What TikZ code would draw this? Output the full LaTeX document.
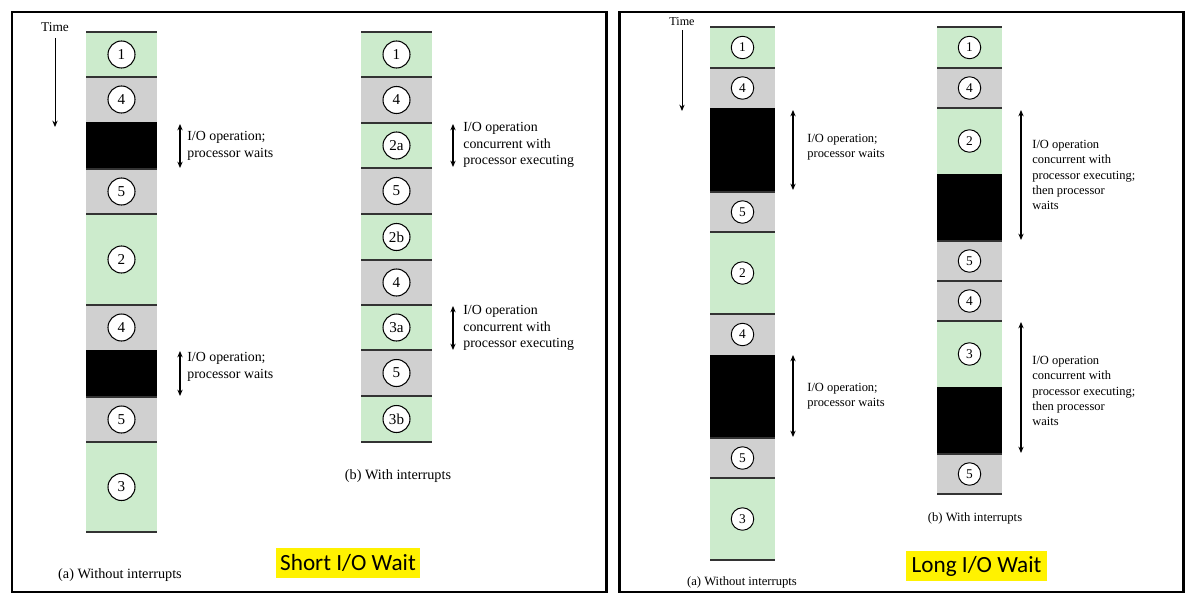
\documentclass[tikz,border=0pt]{standalone}
\usepackage{fontspec}
\setmainfont{Liberation Serif}
\newfontfamily\carlito{Carlito}
\usetikzlibrary{arrows.meta,fit}
\definecolor{pgreen}{HTML}{CCEBCC}
\definecolor{pgray}{HTML}{D0D0D0}
\newcommand\segm[8]{%
  \node[segbox, fill=#6, fit={(#2,#4) (#3,#5)}] (#1) {};
  \draw[sepline] (#1.north west) -- (#1.north east);
  \node[#7] (#1c) at (#1.center) {#8};}
\newcommand\blkseg[5]{%
  \node[segbox, fill=black, fit={(#2,#4) (#3,#5)}] (#1) {};}
\begin{document}
\begin{tikzpicture}[x=0.02cm,y=-0.02cm,
  segbox/.style={inner sep=0pt, outer sep=0pt, draw=none},
  sepline/.style={line width=0.6pt, draw=black!80},
  numL/.style={circle, draw=black, fill=white, line width=0.6pt, inner sep=0pt, minimum size=0.54cm, font=\fontsize{8.6}{9}\selectfont},
  numR/.style={circle, draw=black, fill=white, line width=0.55pt, inner sep=0pt, minimum size=0.45cm, font=\fontsize{7.6}{8}\selectfont},
  ioarrow/.style={line width=0.6pt, {Stealth[length=3.6pt,width=3pt]}-{Stealth[length=3.6pt,width=3pt]}},
  tarrow/.style={line width=0.5pt, -{Stealth[length=3.6pt,width=3pt]}},
  iotextL/.style={anchor=west, align=left, inner sep=0pt, font=\fontsize{7.9}{9.8}\selectfont},
  iotextR/.style={anchor=west, align=left, inner sep=0pt, font=\fontsize{7.1}{8.75}\selectfont},
  capL/.style={inner sep=0pt, font=\fontsize{8.1}{9}\selectfont},
  capR/.style={inner sep=0pt, font=\fontsize{7.2}{8}\selectfont},
  frame/.style={line width=1.7pt, draw=black},
  hilite/.style={fill=yellow, inner sep=0pt, font=\carlito\fontsize{13.2}{15}\selectfont}]
\useasboundingbox (0,0) rectangle (1200,608);
% frames
\draw[frame] (12,12) rectangle (606,592);
\draw[frame] (619,12) rectangle (1183,592);

% ---------- Left (a) ----------
\segm{la1}{86}{157}{32}{77}{pgreen}{numL}{1}
\segm{la2}{86}{157}{77}{122}{pgray}{numL}{4}
\blkseg{la3}{86}{157}{122}{169}
\segm{la4}{86}{157}{169}{214}{pgray}{numL}{5}
\segm{la5}{86}{157}{214}{305}{pgreen}{numL}{2}
\segm{la6}{86}{157}{305}{350}{pgray}{numL}{4}
\blkseg{la7}{86}{157}{350}{397}
\segm{la8}{86}{157}{397}{442}{pgray}{numL}{5}
\segm{la9}{86}{157}{442}{532}{pgreen}{numL}{3}
\draw[sepline] (la9.south west) -- (la9.south east);
\node[capL, font=\fontsize{7.6}{8}\selectfont] (timeL) at (55,27) {Time};
\coordinate (timeLs) at (55,38);
\coordinate (timeLe) at (55,127);
\draw[tarrow] (timeLs) -- (timeLe);
\coordinate (laA1t) at (180,124); \coordinate (laA1b) at (180,168);
\draw[ioarrow] (laA1t) -- (laA1b);
\node[iotextL] (laT1) at (187,146) {I/O operation;\\processor waits};
\coordinate (laA2t) at (180,351); \coordinate (laA2b) at (180,396);
\draw[ioarrow] (laA2t) -- (laA2b);
\node[iotextL] (laT2) at (187,367) {I/O operation;\\processor waits};
\node[capL] (capLa) at (120,575) {(a) Without interrupts};

% ---------- Left (b) ----------
\segm{lb1}{361}{432}{32}{77}{pgreen}{numL}{1}
\segm{lb2}{361}{432}{77}{123}{pgray}{numL}{4}
\segm{lb3}{361}{432}{123}{168}{pgreen}{numL}{2a}
\segm{lb4}{361}{432}{168}{214}{pgray}{numL}{5}
\segm{lb5}{361}{432}{214}{260}{pgreen}{numL}{2b}
\segm{lb6}{361}{432}{260}{305}{pgray}{numL}{4}
\segm{lb7}{361}{432}{305}{350}{pgreen}{numL}{3a}
\segm{lb8}{361}{432}{350}{396}{pgray}{numL}{5}
\segm{lb9}{361}{432}{396}{442}{pgreen}{numL}{3b}
\draw[sepline] (lb9.south west) -- (lb9.south east);
\coordinate (lbA1t) at (453,124); \coordinate (lbA1b) at (453,167);
\draw[ioarrow] (lbA1t) -- (lbA1b);
\node[iotextL, font=\fontsize{7.9}{9.6}\selectfont] (lbT1) at (463,145) {I/O operation\\concurrent with\\processor executing};
\coordinate (lbA2t) at (453,306); \coordinate (lbA2b) at (453,350);
\draw[ioarrow] (lbA2t) -- (lbA2b);
\node[iotextL, font=\fontsize{7.9}{9.6}\selectfont] (lbT2) at (463,328) {I/O operation\\concurrent with\\processor executing};
\node[capL] (capLb) at (398,476) {(b) With interrupts};
\node[hilite, minimum width=2.88cm, minimum height=0.6cm] (short) at (348,563) {Short I/O Wait};

% ---------- Right (a) ----------
\segm{ra1}{710}{775}{27}{68}{pgreen}{numR}{1}
\segm{ra2}{710}{775}{68}{108}{pgray}{numR}{4}
\blkseg{ra3}{710}{775}{108}{192}
\segm{ra4}{710}{775}{192}{232}{pgray}{numR}{5}
\segm{ra5}{710}{775}{232}{314}{pgreen}{numR}{2}
\segm{ra6}{710}{775}{314}{355}{pgray}{numR}{4}
\blkseg{ra7}{710}{775}{355}{438}
\segm{ra8}{710}{775}{438}{478}{pgray}{numR}{5}
\segm{ra9}{710}{775}{478}{560}{pgreen}{numR}{3}
\draw[sepline] (ra9.south west) -- (ra9.south east);
\node[capR, font=\fontsize{6.9}{7}\selectfont] (timeR) at (682,22) {Time};
\coordinate (timeRs) at (682,30);
\coordinate (timeRe) at (682,111);
\draw[tarrow] (timeRs) -- (timeRe);
\coordinate (raA1t) at (793,110); \coordinate (raA1b) at (793,190);
\draw[ioarrow] (raA1t) -- (raA1b);
\node[iotextR] (raT1) at (807,147) {I/O operation;\\processor waits};
\coordinate (raA2t) at (793,355); \coordinate (raA2b) at (793,437);
\draw[ioarrow] (raA2t) -- (raA2b);
\node[iotextR] (raT2) at (807,396) {I/O operation;\\processor waits};
\node[capR] (capRa) at (742,582) {(a) Without interrupts};

% ---------- Right (b) ----------
\segm{rb1}{937}{1002}{27}{68}{pgreen}{numR}{1}
\segm{rb2}{937}{1002}{68}{108}{pgray}{numR}{4}
\segm{rb3}{937}{1002}{108}{174}{pgreen}{numR}{2}
\blkseg{rb4}{937}{1002}{174}{241}
\segm{rb5}{937}{1002}{241}{281}{pgray}{numR}{5}
\segm{rb6}{937}{1002}{281}{321}{pgray}{numR}{4}
\segm{rb7}{937}{1002}{321}{387}{pgreen}{numR}{3}
\blkseg{rb8}{937}{1002}{387}{454}
\segm{rb9}{937}{1002}{454}{494}{pgray}{numR}{5}
\draw[sepline] (rb9.south west) -- (rb9.south east);
\coordinate (rbA1t) at (1021,110); \coordinate (rbA1b) at (1021,240);
\draw[ioarrow] (rbA1t) -- (rbA1b);
\node[iotextR] (rbT1) at (1032,175) {I/O operation\\concurrent with\\processor executing;\\then processor\\waits};
\coordinate (rbA2t) at (1021,322); \coordinate (rbA2b) at (1021,453);
\draw[ioarrow] (rbA2t) -- (rbA2b);
\node[iotextR] (rbT2) at (1032,391) {I/O operation\\concurrent with\\processor executing;\\then processor\\waits};
\node[capR] (capRb) at (975,518) {(b) With interrupts};
\node[hilite, minimum width=2.82cm, minimum height=0.6cm] (long) at (976.5,566) {Long I/O Wait};
\end{tikzpicture}
\end{document}
